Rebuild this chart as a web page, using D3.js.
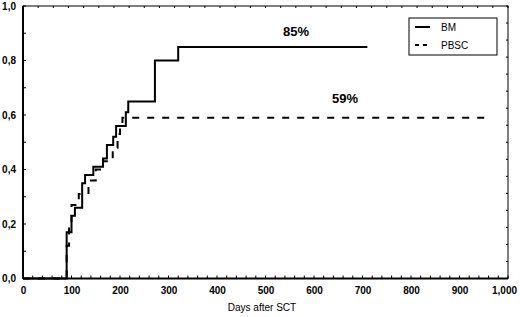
<!DOCTYPE html>
<html><head><meta charset="utf-8">
<script src="https://cdn.jsdelivr.net/npm/d3@7"></script>
<style>body{margin:0;background:#fff}svg{display:block}</style>
</head><body>
<script>
const bmDays   = [0, 90, 100, 107, 122, 128, 145, 165, 173, 186, 192, 212, 217, 272, 320, 710];
const bmVals   = [0, 0.17, 0.23, 0.26, 0.35, 0.38, 0.41, 0.44, 0.49, 0.52, 0.56, 0.61, 0.65, 0.80, 0.85, 0.85];
const pbDays   = [0, 90, 95, 100, 115, 135, 150, 165, 185, 195, 200, 205, 957];
const pbVals   = [0, 0.12, 0.20, 0.27, 0.31, 0.36, 0.40, 0.43, 0.48, 0.53, 0.56, 0.59, 0.59];
const xTicks   = [0,100,200,300,400,500,600,700,800,900,1000];
const yTicks   = [0,0.2,0.4,0.6,0.8,1.0];
const seriesNames = ["BM","PBSC"];
const annotations = [{x:563, y:0.85, t:"85%"},{x:664, y:0.59, t:"59%"}];

const W=520,H=317;
const FONT="Liberation Sans, Arial, sans-serif";
const svg=d3.select("body").append("svg").attr("width",W).attr("height",H);
const x=d3.scaleLinear().domain([0,1000]).range([23,508]);
const y=d3.scaleLinear().domain([0,1]).range([278.5,6]);
const fmt=d=>d3.format(".1f")(d).replace(".",",");

// frame
svg.append("rect").attr("x",x(0)).attr("y",y(1)).attr("width",x(1000)-x(0)).attr("height",y(0)-y(1))
  .attr("fill","none").attr("stroke","#000").attr("stroke-width",1);
svg.append("line").attr("x1",x(0)).attr("x2",x(0)).attr("y1",y(1)).attr("y2",y(0)).attr("stroke","#000").attr("stroke-width",2);
svg.append("line").attr("x1",x(0)).attr("x2",x(1000)).attr("y1",y(0)).attr("y2",y(0)).attr("stroke","#000").attr("stroke-width",2);

// axes
const xAxis=d3.axisBottom(x).tickValues(xTicks).tickSize(0).tickPadding(8);
const gx=svg.append("g").attr("transform",`translate(0,${y(0)})`).call(xAxis);
gx.select(".domain").remove();
gx.selectAll("text").attr("font-family",FONT).attr("font-size",10).attr("font-weight","bold").attr("fill","#000");
gx.selectAll(".tick").filter(d=>d===1000).select("text").attr("dx",-4);
const yAxis=d3.axisLeft(y).tickValues(yTicks).tickFormat(fmt).tickSize(0).tickPadding(7);
const gy=svg.append("g").attr("transform",`translate(${x(0)},0)`).call(yAxis);
gy.select(".domain").remove();
gy.selectAll("text").attr("font-family",FONT).attr("font-size",10).attr("font-weight","bold").attr("fill","#000");

// minor inward ticks
const tk=svg.append("g").attr("stroke","#000").attr("stroke-width",1);
d3.range(0,1001,20).forEach(d=>{tk.append("line").attr("x1",x(d)).attr("x2",x(d)).attr("y1",y(0)).attr("y2",y(0)-3);});
d3.range(0,1001,31.25).forEach(d=>{tk.append("line").attr("x1",x(d)).attr("x2",x(d)).attr("y1",y(1)).attr("y2",y(1)+2);});
d3.range(0,1.0001,0.1).forEach(v=>{tk.append("line").attr("x1",x(0)).attr("x2",x(0)+3).attr("y1",y(v)).attr("y2",y(v));});
d3.range(0,1.0001,0.0625).forEach(v=>{tk.append("line").attr("x1",x(1000)).attr("x2",x(1000)-2).attr("y1",y(v)).attr("y2",y(v));});

// curves
const line=d3.line().x(d=>x(d[0])).y(d=>y(d[1])).curve(d3.curveStepAfter);
svg.append("path").datum(bmDays.map((d,i)=>[d,bmVals[i]])).attr("d",line)
  .attr("fill","none").attr("stroke","#000").attr("stroke-width",2);
svg.append("path").datum(pbDays.map((d,i)=>[d,pbVals[i]])).attr("d",line)
  .attr("fill","none").attr("stroke","#000").attr("stroke-width",2).attr("stroke-dasharray","7,8");

// annotations
annotations.forEach((a,i)=>{
  svg.append("text").attr("x",x(a.x)).attr("y",y(a.y)-(i?15:11)).attr("text-anchor","middle")
   .attr("font-family",FONT).attr("font-size",13).attr("font-weight","bold").text(a.t);
});

// legend
const lg=svg.append("g");
lg.append("rect").attr("x",409).attr("y",18).attr("width",88).attr("height",37).attr("fill","#fff").attr("stroke","#000").attr("stroke-width",1);
seriesNames.forEach((n,i)=>{
  const yy=27+i*18;
  lg.append("line").attr("x1",415).attr("x2",430).attr("y1",yy).attr("y2",yy).attr("stroke","#000").attr("stroke-width",2)
    .attr("stroke-dasharray",i?"4,4":null);
  lg.append("text").attr("x",441).attr("y",yy+4).attr("font-family",FONT).attr("font-size",10).text(n);
});

// x title
svg.append("text").attr("x",262).attr("y",311).attr("text-anchor","middle")
  .attr("font-family",FONT).attr("font-size",10).text("Days after SCT");
</script>
</body></html>
